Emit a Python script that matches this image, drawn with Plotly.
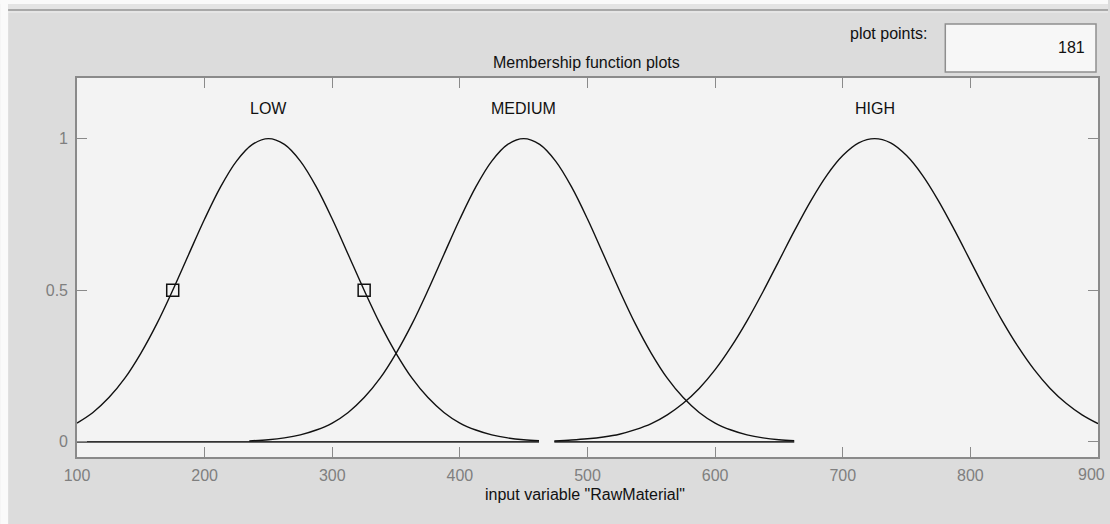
import plotly.graph_objects as go

# ---- data ----
x_ticks = [100, 200, 300, 400, 500, 600, 700, 800, 900]
y_ticks = [0, 0.5, 1]
y_tick_text = ["0", "0.5", "1"]

low_x = [100, 112.5, 125, 137.5, 150, 162.5, 175, 187.5, 200, 212.5, 225, 237.5, 250,
         262.5, 275, 287.5, 300, 312.5, 325, 337.5, 350, 362.5, 375, 387.5, 400, 412.5,
         425, 437.5, 450, 462]
low_y = [0.062, 0.097, 0.146, 0.210, 0.292, 0.389, 0.500, 0.618, 0.735, 0.841, 0.926, 0.981, 1.0,
         0.981, 0.926, 0.841, 0.735, 0.618, 0.500, 0.389, 0.292, 0.210, 0.146, 0.097, 0.062, 0.039,
         0.023, 0.013, 0.007, 0.004]

med_x = [235, 250, 262.5, 275, 287.5, 300, 312.5, 325, 337.5, 350, 362.5, 375, 387.5, 400,
         412.5, 425, 437.5, 450, 462.5, 475, 487.5, 500, 512.5, 525, 537.5, 550, 562.5, 575,
         587.5, 600, 612.5, 625, 637.5, 650, 662]
med_y = [0.003, 0.007, 0.013, 0.023, 0.039, 0.062, 0.097, 0.146, 0.210, 0.292, 0.389, 0.500, 0.618, 0.735,
         0.841, 0.926, 0.981, 1.0, 0.981, 0.926, 0.841, 0.735, 0.618, 0.500, 0.389, 0.292, 0.210, 0.146,
         0.097, 0.062, 0.039, 0.023, 0.013, 0.007, 0.004]

high_x = [474, 487.5, 500, 512.5, 525, 537.5, 550, 562.5, 575, 587.5, 600, 612.5, 625, 637.5,
          650, 662.5, 675, 687.5, 700, 712.5, 725, 737.5, 750, 762.5, 775, 787.5, 800, 812.5,
          825, 837.5, 850, 862.5, 875, 887.5, 900]
high_y = [0.003, 0.006, 0.010, 0.016, 0.025, 0.040, 0.060, 0.089, 0.127, 0.176, 0.238, 0.313, 0.399, 0.495,
          0.597, 0.699, 0.795, 0.879, 0.944, 0.986, 1.0, 0.986, 0.944, 0.879, 0.795, 0.699, 0.597, 0.495,
          0.399, 0.313, 0.238, 0.176, 0.127, 0.089, 0.060]

base_x = [100, 462, None, 474, 662]
base_y = [0, 0, None, 0, 0]

marker_x = [175, 325]
marker_y = [0.5, 0.5]

mf_names = ["LOW", "MEDIUM", "HIGH"]
mf_label_x = [250, 450, 725]
mf_label_y = 1.1

plot_points = "181"

# ---- layout constants ----
W, H = 1110, 524
ML, MR, MT, MB = 77, 10, 78, 67
PW, PH = W - ML - MR, H - MT - MB
FONT = "Liberation Sans, Arial, Helvetica, sans-serif"
FS = 16
TICK_GRAY = "#7f7f7f"


def px(xp):
    return (xp - ML) / PW


def py(yp):
    return (H - MB - yp) / PH


fig = go.Figure()

fig.add_trace(go.Scatter(x=base_x, y=base_y, mode="lines",
                         line=dict(color="#333333", width=1.8),
                         hoverinfo="skip", showlegend=False))
for xs, ys in [(low_x, low_y), (med_x, med_y), (high_x, high_y)]:
    fig.add_trace(go.Scatter(x=xs, y=ys, mode="lines",
                             line=dict(color="#111111", width=1.4, shape="spline", smoothing=1.0),
                             showlegend=False))
fig.add_trace(go.Scatter(x=marker_x, y=marker_y, mode="markers",
                         marker=dict(symbol="square-open", size=12, color="#111111",
                                     line=dict(width=1.5, color="#111111")),
                         showlegend=False))

for name, lx in zip(mf_names, mf_label_x):
    fig.add_annotation(x=lx, y=mf_label_y, xref="x", yref="y", text=name,
                       showarrow=False, font=dict(family=FONT, size=FS, color="#111111"))

# last x tick label, kept inside the page at its right edge
fig.add_annotation(x=px(1109), y=py(474), xref="paper", yref="paper", text=str(x_ticks[-1]),
                   showarrow=False, xanchor="right", yanchor="middle",
                   font=dict(family=FONT, size=FS, color=TICK_GRAY))

# header texts
fig.add_annotation(x=px(587), y=py(62), xref="paper", yref="paper",
                   text="Membership function plots", showarrow=False,
                   xanchor="center", yanchor="middle",
                   font=dict(family=FONT, size=FS, color="#111111"))
fig.add_annotation(x=px(931), y=py(33), xref="paper", yref="paper",
                   text="plot points:", showarrow=False,
                   xanchor="right", yanchor="middle",
                   font=dict(family=FONT, size=FS, color="#111111"))
fig.add_annotation(x=px(1089), y=py(47), xref="paper", yref="paper",
                   text=plot_points, showarrow=False,
                   xanchor="right", yanchor="middle",
                   font=dict(family=FONT, size=FS, color="#111111"))
fig.add_annotation(x=px(586), y=py(494), xref="paper", yref="paper",
                   text='input variable "RawMaterial"', showarrow=False,
                   xanchor="center", yanchor="middle",
                   font=dict(family=FONT, size=FS, color="#111111"))

shapes = [
    # white left and top strips
    dict(type="rect", xref="paper", yref="paper", x0=px(0), x1=px(8), y0=py(H), y1=py(0),
         fillcolor="#fafafa", line=dict(width=0), layer="below"),
    dict(type="rect", xref="paper", yref="paper", x0=px(0), x1=px(W), y0=py(4), y1=py(0),
         fillcolor="#fafafa", line=dict(width=0), layer="below"),
    dict(type="rect", xref="paper", yref="paper", x0=px(8), x1=px(W), y0=py(9), y1=py(4),
         fillcolor="#e4e4e4", line=dict(width=0), layer="below"),
    dict(type="line", xref="paper", yref="paper", x0=px(8), x1=px(W), y0=py(10), y1=py(10),
         line=dict(color="#a8a8a8", width=2), layer="below"),
    dict(type="line", xref="paper", yref="paper", x0=px(8), x1=px(W), y0=py(12), y1=py(12),
         line=dict(color="#eeeeee", width=1), layer="below"),
    # plot points box
    dict(type="rect", xref="paper", yref="paper", x0=px(947), x1=px(1098), y0=py(72), y1=py(24),
         fillcolor="#f7f7f7", line=dict(color="#8f8f8f", width=1.5)),
]

fig.update_layout(
    width=W, height=H, autosize=False,
    margin=dict(l=ML, r=MR, t=MT, b=MB, pad=0),
    paper_bgcolor="#dcdcdc", plot_bgcolor="#f3f3f3",
    font=dict(family=FONT, size=FS, color="#111111"),
    shapes=shapes,
    showlegend=False,
)
fig.update_xaxes(range=[100, 900], tickvals=x_ticks,
                 ticktext=[str(v) for v in x_ticks[:-1]] + [""],
                 ticks="inside", ticklen=10, tickwidth=1.2, tickcolor="#8a8a8a",
                 showline=True, linecolor="#8a8a8a", linewidth=1.6, mirror="ticks",
                 showgrid=False, zeroline=False,
                 tickfont=dict(family=FONT, size=FS, color=TICK_GRAY), ticklabelstandoff=3)
fig.update_yaxes(range=[-0.05, 1.2], tickvals=y_ticks, ticktext=y_tick_text,
                 ticks="inside", ticklen=10, tickwidth=1.2, tickcolor="#8a8a8a",
                 showline=True, linecolor="#8a8a8a", linewidth=1.6, mirror="ticks",
                 showgrid=False, zeroline=False,
                 tickfont=dict(family=FONT, size=FS, color=TICK_GRAY), ticklabelstandoff=4)

fig.write_html("out.html", config={"displayModeBar": False},
               post_script="document.body.style.margin='0';document.body.style.overflow='hidden';")
